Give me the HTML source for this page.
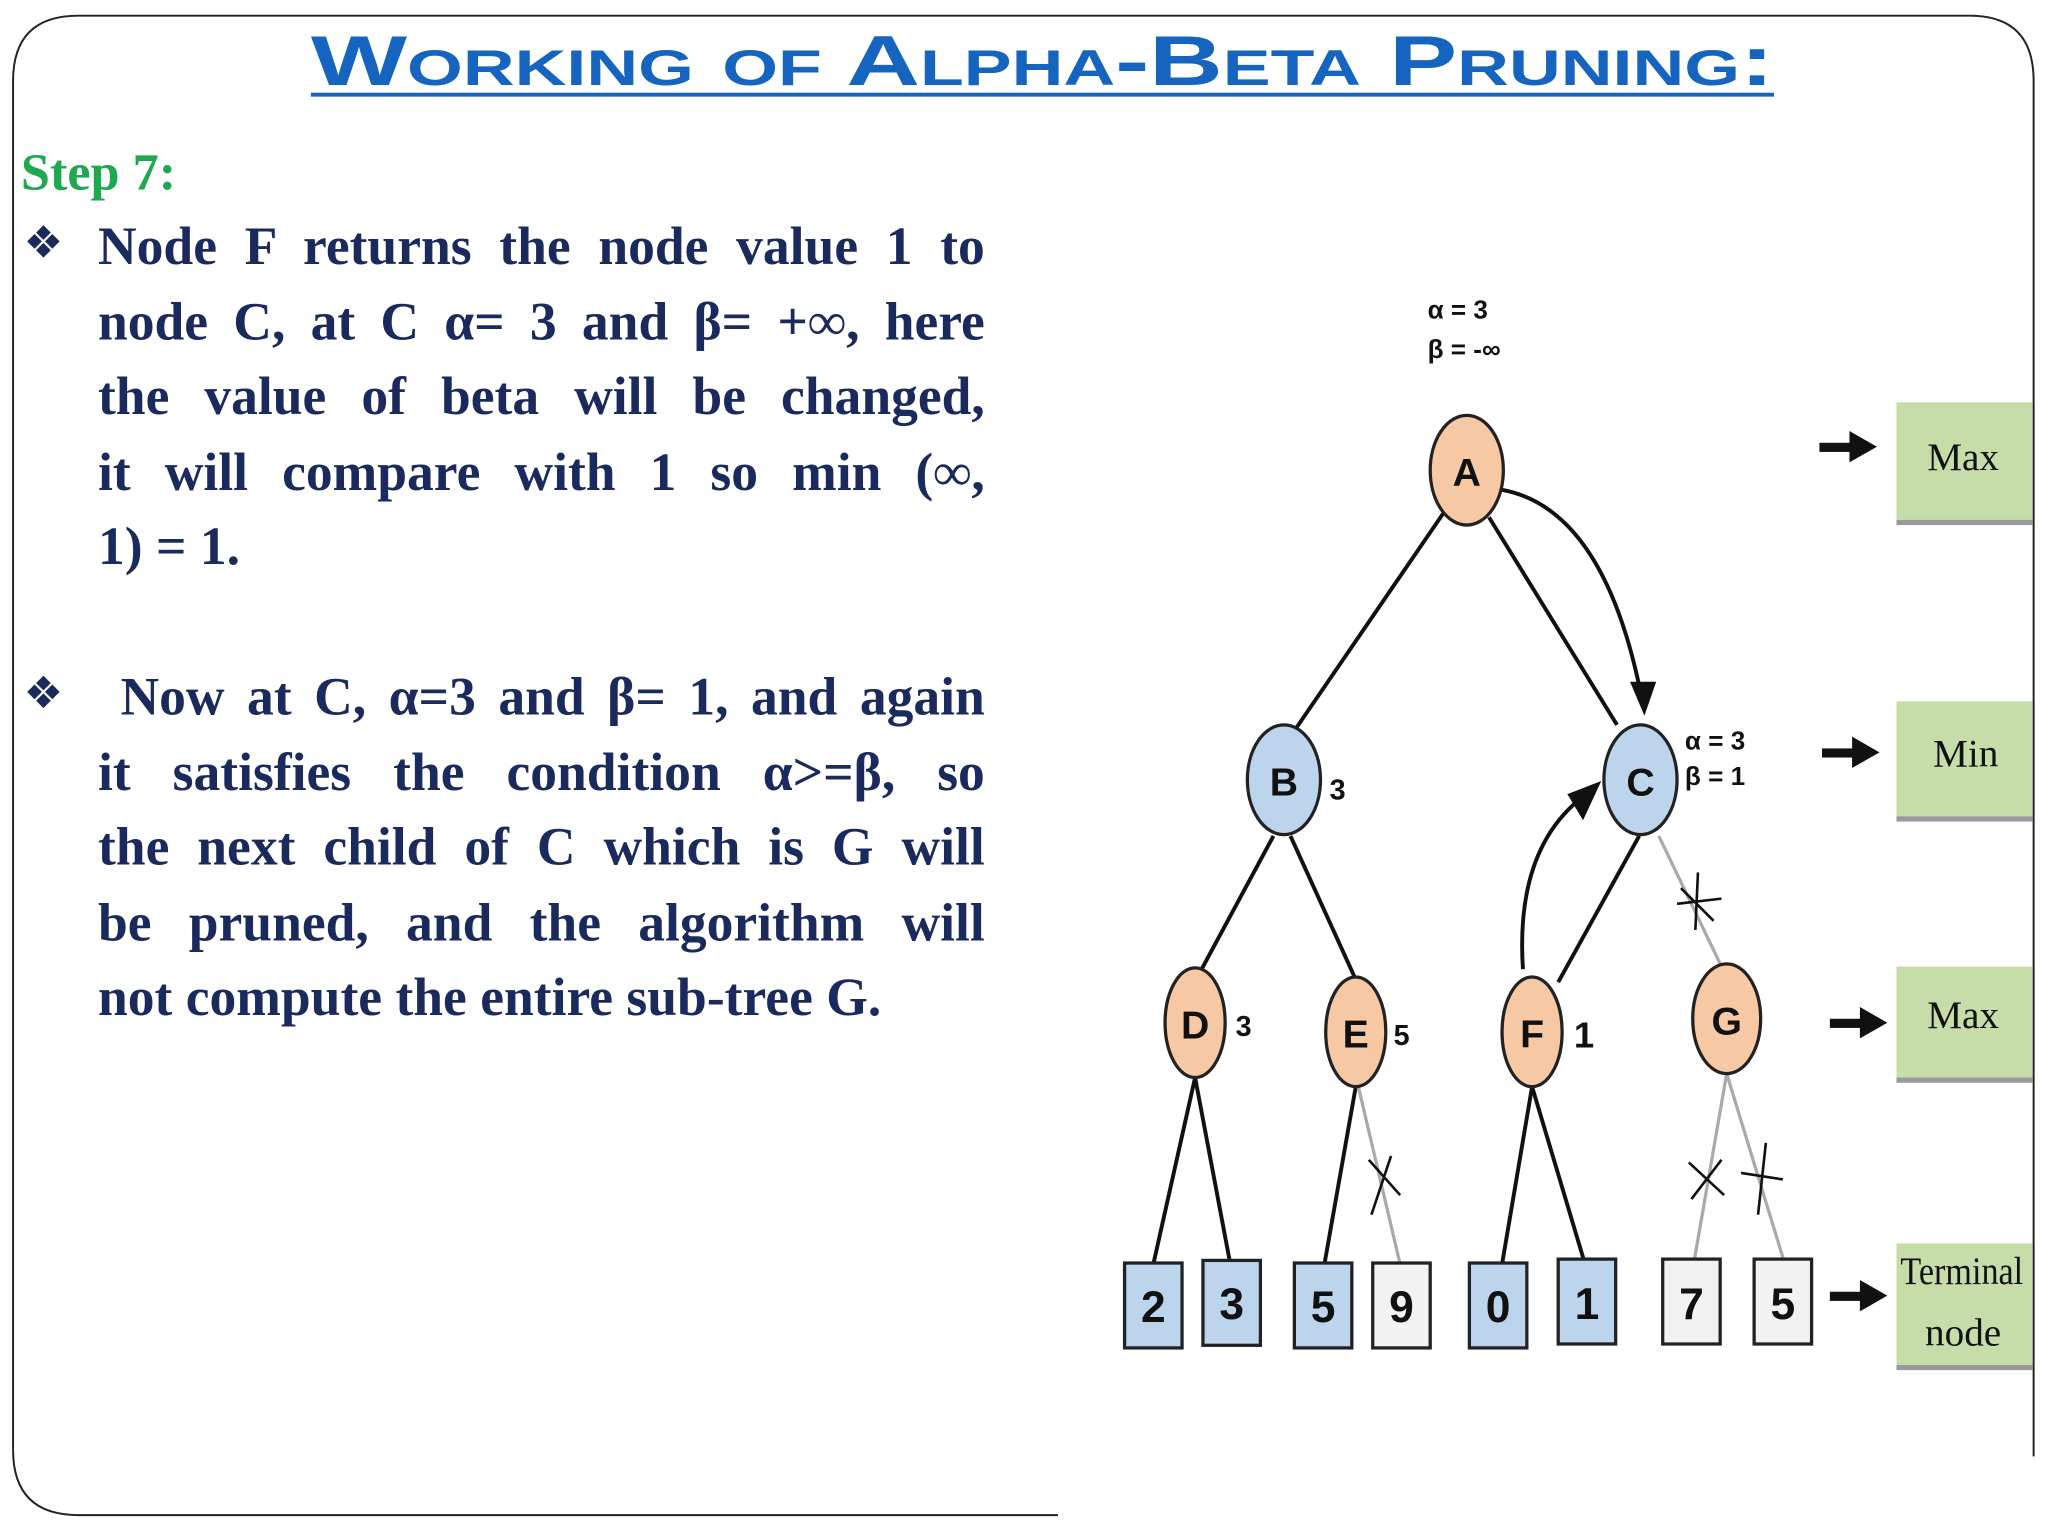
<!DOCTYPE html>
<html><head><meta charset="utf-8"><style>
html,body{margin:0;padding:0;background:#fff;width:2048px;height:1536px;overflow:hidden}
#w{position:absolute;left:0;top:0;width:1568px;height:1176px;transform:scale(1.306122);transform-origin:0 0}
.t{position:absolute;left:238px;top:14px;width:792px;font-family:"Liberation Sans",sans-serif;font-weight:bold;color:#1565c0;font-size:54px;font-variant:small-caps;text-decoration:underline;text-decoration-thickness:3px;text-underline-offset:6px;white-space:nowrap;line-height:66px;transform:scaleX(1.445);transform-origin:0 0}
.s{position:absolute;left:16px;top:108px;font-family:"Liberation Serif",serif;font-weight:bold;color:#1fa84f;font-size:40px}
.p{position:absolute;left:75px;width:679px;font-family:"Liberation Serif",serif;font-weight:bold;color:#1b2a5c;font-size:41px;line-height:57.5px}
.p div{text-align:justify;text-align-last:justify;white-space:nowrap}
.p div.l{text-align-last:left}
.b{position:absolute;left:18px;font-size:34px;color:#1b2a5c;font-family:"DejaVu Sans",sans-serif}
</style></head><body><div id="w">
<svg width="1568" height="1176" style="position:absolute;left:0;top:0" font-family="Liberation Sans,sans-serif">
<path d="M10 1110 V62 Q10 12 60 12 H1508 Q1557 12 1557 62 V1115" fill="none" stroke="#222" stroke-width="1.5"/>
<path d="M10 1110 Q10 1160 60 1160 H810" fill="none" stroke="#222" stroke-width="1.5"/>
<g stroke="#111" stroke-width="3" fill="none">
<line x1="1105" y1="393" x2="992" y2="558"/><line x1="1140" y1="396" x2="1238" y2="555"/>
<line x1="975" y1="640" x2="920" y2="742"/><line x1="988" y1="640" x2="1038" y2="750"/>
<line x1="1255" y1="640" x2="1193" y2="752"/>
<line x1="915" y1="825" x2="883" y2="968"/><line x1="915" y1="825" x2="942" y2="968"/>
<line x1="1038" y1="832" x2="1014" y2="968"/>
<line x1="1173" y1="832" x2="1150" y2="968"/><line x1="1173" y1="832" x2="1213" y2="966"/>
<path d="M1150 375 Q1230 390 1258 540"/>
<path d="M1166 742 Q1160 650 1212 610"/>
</g>
<polygon points="1248,522 1268,522 1259,548" fill="#111"/>
<polygon points="1200,608 1226,598 1212,628" fill="#111"/>
<g stroke="#aaa" stroke-width="2.5" fill="none">
<line x1="1270" y1="640" x2="1318" y2="740"/>
<line x1="1040" y1="832" x2="1072" y2="968"/>
<line x1="1322" y1="822" x2="1297" y2="966"/><line x1="1322" y1="822" x2="1366" y2="966"/>
</g>
<g stroke="#111" stroke-width="2" fill="none">
<line x1="1287" y1="680" x2="1312" y2="705"/><line x1="1300" y1="668" x2="1298" y2="712"/><line x1="1284" y1="692" x2="1318" y2="688"/>
<line x1="1048" y1="888" x2="1072" y2="915"/><line x1="1065" y1="885" x2="1050" y2="930"/>
<line x1="1293" y1="890" x2="1320" y2="915"/><line x1="1318" y1="888" x2="1295" y2="918"/>
<line x1="1352" y1="875" x2="1346" y2="930"/><line x1="1333" y1="898" x2="1365" y2="903"/>
</g>
<g stroke="#222" stroke-width="2.5">
<ellipse cx="1123" cy="360" rx="28" ry="42" fill="#f6c8a3"/>
<ellipse cx="983" cy="597" rx="28" ry="42" fill="#bcd5ec"/>
<ellipse cx="1256" cy="597" rx="28" ry="42" fill="#bcd5ec"/>
<ellipse cx="915" cy="783" rx="23" ry="42" fill="#f6c8a3"/>
<ellipse cx="1038" cy="790" rx="23" ry="42" fill="#f6c8a3"/>
<ellipse cx="1173" cy="790" rx="23" ry="42" fill="#f6c8a3"/>
<ellipse cx="1322" cy="780" rx="26" ry="42" fill="#f6c8a3"/>
</g>
<g font-weight="bold" font-size="30" text-anchor="middle" fill="#111">
<text x="1123" y="372">A</text><text x="983" y="609">B</text><text x="1256" y="609">C</text>
<text x="915" y="795">D</text><text x="1038" y="802">E</text><text x="1173" y="802">F</text><text x="1322" y="792">G</text>
</g>
<g font-weight="bold" font-size="22" fill="#111">
<text x="1018" y="612">3</text><text x="946" y="793">3</text><text x="1067" y="800">5</text><text x="1205" y="802" font-size="28">1</text>
<text x="1093" y="244" font-size="20">α = 3</text><text x="1093" y="274" font-size="20">β = -∞</text>
<text x="1290" y="574" font-size="20">α = 3</text><text x="1290" y="601" font-size="20">β = 1</text>
</g>
<g stroke="#222" stroke-width="2.5">
<rect x="861" y="967" width="44" height="65" fill="#bcd5ec"/><rect x="921" y="965" width="44" height="65" fill="#bcd5ec"/>
<rect x="991" y="967" width="44" height="65" fill="#bcd5ec"/><rect x="1051" y="967" width="44" height="65" fill="#f2f2f2"/>
<rect x="1125" y="967" width="44" height="65" fill="#bcd5ec"/><rect x="1193" y="964" width="44" height="65" fill="#bcd5ec"/>
<rect x="1273" y="964" width="44" height="65" fill="#f2f2f2"/><rect x="1343" y="964" width="44" height="65" fill="#f2f2f2"/>
</g>
<g font-weight="bold" font-size="34" text-anchor="middle" fill="#111">
<text x="883" y="1012">2</text><text x="943" y="1010">3</text><text x="1013" y="1012">5</text><text x="1073" y="1012">9</text>
<text x="1147" y="1012">0</text><text x="1215" y="1010">1</text><text x="1295" y="1010">7</text><text x="1365" y="1010">5</text>
</g>
<g fill="#c6ddaa">
<rect x="1452" y="308" width="104" height="90"/><rect x="1452" y="537" width="104" height="88"/>
<rect x="1452" y="740" width="104" height="85"/><rect x="1452" y="952" width="104" height="93"/>
</g>
<g fill="#999"><rect x="1452" y="398" width="104" height="4"/><rect x="1452" y="625" width="104" height="4"/><rect x="1452" y="825" width="104" height="4"/><rect x="1452" y="1045" width="104" height="4"/></g>
<g font-family="Liberation Serif,serif" font-size="30" text-anchor="middle" fill="#111">
<text x="1503" y="360">Max</text><text x="1505" y="587">Min</text><text x="1503" y="787">Max</text>
<text x="1502" y="983" textLength="94" lengthAdjust="spacingAndGlyphs">Terminal</text><text x="1503" y="1030">node</text>
</g>
<g fill="#111">
<rect x="1393" y="339" width="26" height="7"/><polygon points="1416,330 1437,342 1416,354"/>
<rect x="1395" y="573" width="26" height="7"/><polygon points="1418,564 1439,576 1418,588"/>
<rect x="1401" y="780" width="26" height="7"/><polygon points="1424,771 1445,783 1424,795"/>
<rect x="1401" y="989" width="26" height="7"/><polygon points="1424,980 1445,992 1424,1004"/>
</g>
</svg>
<div class="t">Working of Alpha-Beta Pruning:</div>
<div class="s">Step 7:</div>
<div class="b" style="top:166px">❖</div>
<div class="p" style="top:160px">
<div>Node F returns the node value 1 to</div>
<div>node C, at C α= 3 and β= +∞, here</div>
<div>the value of beta will be changed,</div>
<div>it will compare with 1 so min (∞,</div>
<div class="l">1) = 1.</div>
</div>
<div class="b" style="top:511px">❖</div>
<div class="p" style="top:505px">
<div>&nbsp;Now at C, α=3 and β= 1, and again</div>
<div>it satisfies the condition α&gt;=β, so</div>
<div>the next child of C which is G will</div>
<div>be pruned, and the algorithm will</div>
<div class="l">not compute the entire sub-tree G.</div>
</div>
</div></body></html>
